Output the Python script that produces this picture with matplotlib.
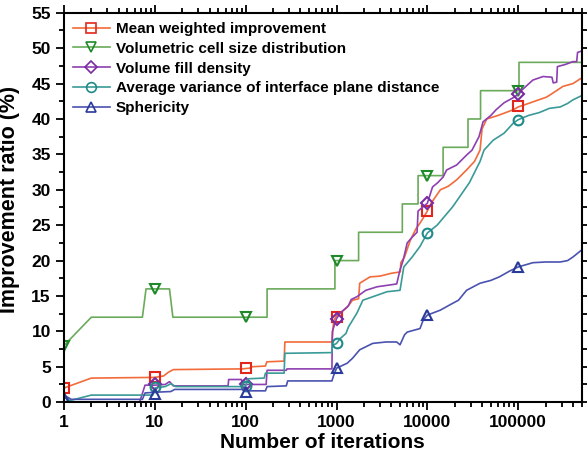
"""
Improvement ratio against number of iterations (log x axis)
"""

import matplotlib.pyplot as plt
from matplotlib.lines import Line2D
from matplotlib.ticker import FixedLocator, LogLocator, NullFormatter

plt.rcParams['font.family'] = ['Liberation Sans', 'DejaVu Sans']
plt.rcParams['font.weight'] = 'bold'

# series data
labels = ['Mean weighted improvement',
          'Volumetric cell size distribution',
          'Volume fill density',
          'Average variance of interface plane distance',
          'Sphericity']

mean_x = [1, 2, 10, 12.5, 14, 16, 92, 110, 117, 165, 171, 265, 270, 890,
          930, 1000, 1100, 1310, 1500, 1750, 1800, 2340, 3000, 4000, 5040,
          5100, 5600, 6500, 7500, 8500, 9900, 11000, 13900, 17000, 21000,
          27000, 33000, 38000, 40000, 45000, 60000, 88000, 100000, 130000,
          206000, 250000, 310000, 400000, 500000]
mean_y = [2.0, 3.4, 3.5, 3.7, 4.2, 4.6, 4.7, 4.8, 5.0, 5.1, 5.7, 5.8, 8.5, 8.5,
          11.5, 12.2, 12.6, 13.4, 14.4, 14.6, 16.8, 17.7, 17.8, 18.2, 18.4,
          19.7, 20.5, 22.9, 24.5, 25.5, 26.9, 28.1, 30.0, 30.5, 31.4,
          32.8, 34.0, 35.6, 38.6, 40.0, 40.5, 41.3, 41.7, 42.2,
          43.1, 43.8, 44.6, 45.0, 45.8]

vol_x = [1, 2, 7.3, 8.0, 14.5, 15.8, 172, 172, 960, 960, 1750, 1750, 5300,
         5300, 7900, 7900, 14900, 14900, 28000, 28000, 38500, 38500, 102000,
         102000, 500000]
vol_y = [8, 12, 12, 16, 16, 12, 12, 16, 16, 20, 20, 24, 24,
         28, 28, 32, 32, 36, 36, 40, 40, 44, 44,
         48, 48]

fill_x = [1, 6.8, 7.8, 10, 13, 14.5, 16, 64, 65, 90, 92, 168, 172, 280, 285,
          890, 900, 1000, 1100, 1350, 1450, 1680, 2100, 2800, 3600, 4600,
          5000, 5400, 6000, 6800, 7700, 7900, 10000, 11400, 13000, 14900,
          16300, 21000, 27000, 31000, 37000, 41000, 50000, 57000, 70000,
          88000, 100000, 110000, 145000, 188000, 235000, 243000, 265000,
          270000, 330000, 400000, 440000, 450000, 500000]
fill_y = [0, 0, 2.4, 2.4, 2.5, 2.9, 2.3, 2.3, 3.2, 3.2, 2.5, 2.5, 4.5, 4.5, 4.7,
          4.7, 10.0, 11.8, 12.6, 13.6, 14.5, 14.9, 15.8, 16.3, 16.5, 16.7,
          18.7, 20.0, 22.5, 23.3, 24.0, 27.0, 28.1, 30.4, 31.0, 31.8,
          32.8, 33.5, 34.9, 35.6, 37.5, 39.6, 40.5, 41.3, 42.3,
          43.0, 43.5, 44.1, 45.5, 46.0, 45.9, 45.1, 45.2,
          47.4, 47.7, 48.1, 48.1, 49.4, 49.6]

var_x = [1, 2, 9.5, 10, 13, 15, 17, 92, 100, 106, 160, 165, 265, 270, 890,
         900, 1000, 1100, 1270, 1350, 1680, 1950, 3600, 5000, 5500, 6800,
         8300, 10000, 12800, 19000, 29000, 38000, 42000, 53000, 70000, 88000,
         100000, 130000, 170000, 220000, 290000, 350000, 400000, 500000]
var_y = [0.0, 1.0, 1.0, 2.0, 2.2, 2.6, 2.2, 2.2, 2.3, 3.3, 3.4, 4.1, 4.1, 6.9, 7.0,
         8.0, 8.3, 9.0, 9.7, 10.6, 12.6, 14.4, 15.6, 15.8, 19.1, 20.5,
         22.0, 23.9, 25.0, 27.6, 31.0, 34.0, 35.6, 37.0, 38.0, 39.4,
         39.9, 40.5, 40.9, 41.5, 41.7, 42.2, 42.7, 43.3]

sph_x = [1, 1.2, 7.3, 7.8, 10, 15, 16.5, 92, 100, 165, 172, 280, 290, 890,
         920, 1000, 1310, 1500, 1800, 2500, 3500, 4600, 5000, 5600, 6000,
         8300, 9000, 10000, 13900, 18000, 22000, 27000, 38000, 50000, 62000,
         80000, 100000, 145000, 200000, 290000, 350000, 400000, 500000]
sph_y = [1.0, 0.4, 0.4, 1.3, 1.4, 1.5, 1.8, 1.8, 1.6, 1.6, 2.2, 2.3, 3.0, 3.0,
         3.6, 4.8, 5.5, 6.2, 7.4, 8.3, 8.5, 8.5, 8.1, 9.5, 9.9,
         10.4, 11.6, 12.3, 13.0, 13.8, 14.4, 15.8, 16.8, 17.2, 17.7,
         18.5, 19.1, 19.7, 19.8, 19.8, 20.0, 20.5, 21.5]

# marker values at each decade
mark_x = [1, 10, 100, 1000, 10000, 100000]
mean_m = [2.0, 3.6, 4.8, 12.0, 27.0, 41.8]
vol_m = [8, 16, 12, 20, 32, 44]
fill_m = [0, 2.5, 2.6, 11.7, 28.1, 43.5]
var_m = [0, 2.1, 2.3, 8.3, 23.9, 39.9]
sph_m = [0.6, 1.2, 1.5, 4.8, 12.3, 19.1]

series = [(mean_x, mean_y, mean_m, '#f26b3a', '#e3261b', 's'),
          (vol_x, vol_y, vol_m, '#6aaa5a', '#1f8a2a', 'v'),
          (fill_x, fill_y, fill_m, '#8e3fb0', '#7a2aa0', 'D'),
          (var_x, var_y, var_m, '#3a9a98', '#1f8a88', 'o'),
          (sph_x, sph_y, sph_m, '#4a52b0', '#2a3a9a', '^')]

fig = plt.figure(figsize=(5.87, 4.57), dpi=100)
ax = fig.add_axes([0.109, 0.120, 0.882, 0.852])

handles = []
for xs, ys, ms, lc, mc, mk in series:
    ax.plot(xs, ys, '-', color=lc, lw=1.2)
    msz = 6 if mk == 'D' else 7
    ax.plot(mark_x, ms, mk, ms=msz, mfc='none', mec=mc, mew=1.5)
    handles.append(Line2D([], [], color=lc, lw=1.2, marker=mk, ms=msz,
                          mfc='none', mec=mc, mew=1.2))

ax.set_xscale('log')
ax.set_xlim(1, 500000)
ax.set_ylim(0, 55)

ax.xaxis.set_major_locator(FixedLocator([1, 10, 100, 1000, 10000, 100000]))
ax.set_xticklabels(['1', '10', '100', '1000', '10000', '100000'])
ax.xaxis.set_minor_locator(LogLocator(base=10, subs=range(2, 10), numticks=20))
ax.xaxis.set_minor_formatter(NullFormatter())
ax.set_yticks(range(0, 56, 5))
ax.set_yticks([i * 2.5 for i in range(23)], minor=True)

ax.tick_params(which='both', direction='out', top=True, right=True,
               labelsize=12.5, width=1.3)
ax.tick_params(which='major', length=6)
ax.tick_params(which='minor', length=3.5)
for s in ax.spines.values():
    s.set_linewidth(1.5)

ax.set_xlabel('Number of iterations', fontsize=15, fontweight='bold', labelpad=2)
ax.set_ylabel('Improvement ratio (%)', fontsize=15.5, fontweight='bold', labelpad=3)
ax.yaxis.set_label_coords(-0.085, 0.52)

ax.legend(handles, labels, loc='upper left', frameon=False,
          handlelength=2.4, handletextpad=0.4, labelspacing=0.38,
          borderaxespad=0.2, prop={'weight': 'bold', 'size': 11})

plt.savefig('out.png', dpi=100)
